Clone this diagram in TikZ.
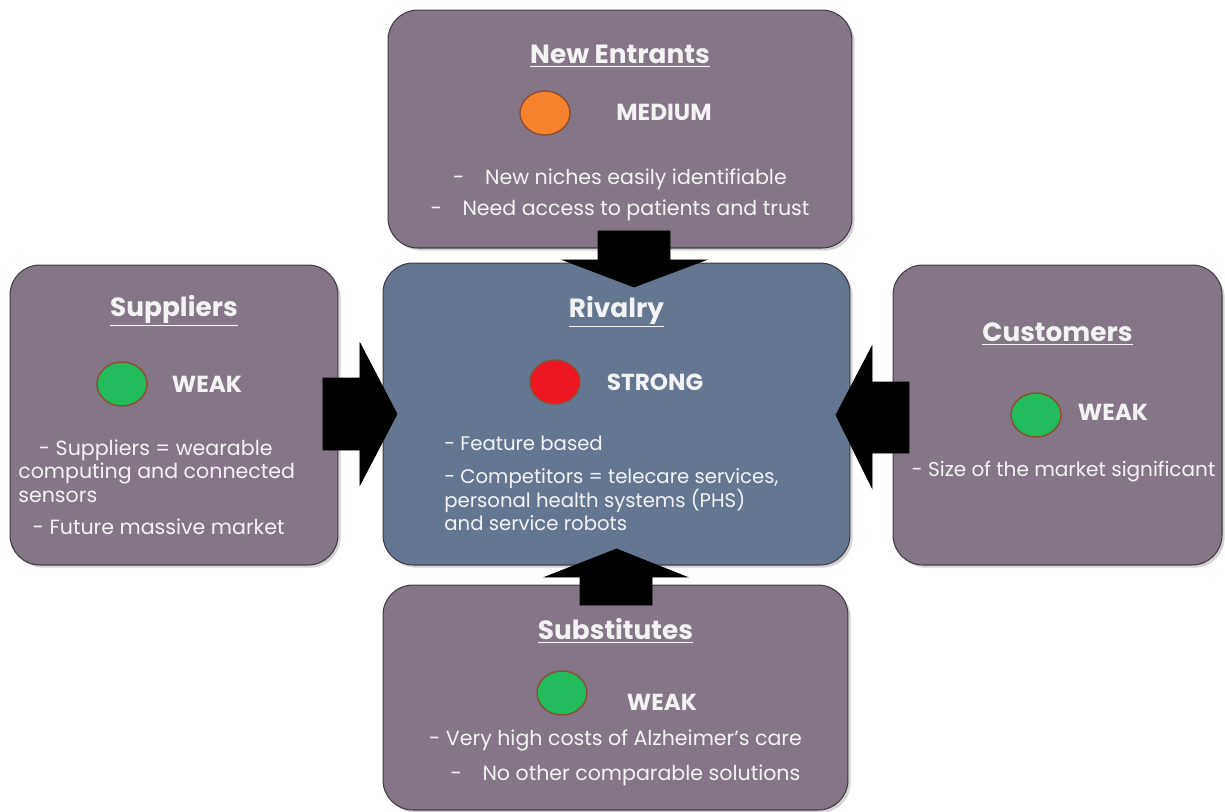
\documentclass[tikz,border=0pt]{standalone}
\usepackage{fontspec}
\setmainfont{Poppins}
\usetikzlibrary{positioning,calc,shadows,shapes.geometric}
\definecolor{forcefill}{RGB}{133,118,135}
\definecolor{rivalfill}{RGB}{101,118,145}
\definecolor{boxedge}{RGB}{66,58,68}
\definecolor{txtlight}{RGB}{243,243,243}
\definecolor{medorange}{RGB}{245,130,45}
\definecolor{strongred}{RGB}{238,22,32}
\definecolor{weakgreen}{RGB}{34,188,92}
\definecolor{dotrim}{RGB}{140,78,52}

\begin{document}
\begin{tikzpicture}[
        x=0.02cm, y=-0.02cm,
        forcebox/.style={draw=boxedge, line width=0.6pt, rounded corners=17pt, fill=forcefill, inner sep=0pt, outer sep=0pt,
            drop shadow={opacity=0.35, shadow xshift=1.5pt, shadow yshift=-1.5pt}},
        rivalbox/.style={forcebox, fill=rivalfill},
        title/.style={text=txtlight, font=\fontsize{15}{18}\selectfont\bfseries},
        level/.style={text=txtlight, font=\fontsize{13.2}{15}\selectfont\bfseries},
        body/.style={text=txtlight, inner sep=0pt, font=\fontsize{11.7}{13.5}\selectfont},
        dot/.style={ellipse, draw=dotrim, line width=0.8pt, minimum width=1cm, minimum height=0.88cm, inner sep=0pt},
        forcearrow/.style={fill=black, draw=black}
    ]
    \useasboundingbox (0,0) rectangle (1225,812);

    % Boxes
    \node[forcebox, minimum width=9.28cm, minimum height=4.76cm] (entrants) at (620,129) {};
    \node[forcebox, minimum width=6.56cm, minimum height=6cm] (suppliers) at (174,415) {};
    \node[rivalbox, minimum width=9.34cm, minimum height=6.04cm] (rivalry) at (616.5,414) {};
    \node[forcebox, minimum width=6.58cm, minimum height=6cm] (customers) at (1057.5,415) {};
    \node[forcebox, minimum width=9.3cm, minimum height=4.5cm] (substitutes) at (615.5,697.5) {};

    % New Entrants
    \node[title] (entrantsTitle) at ($(entrants.center)+(0,-73)$) {\underline{New Entrants}};
    \node[dot, fill=medorange] (entrantsDot) at ($(entrants.center)+(-75,-16)$) {};
    \node[level] (entrantsLevel) at ($(entrants.center)+(44,-17)$) {MEDIUM};
    \node[body, align=center, font=\fontsize{11.7}{18}\selectfont] (entrantsText) at ($(entrants.center)+(0,66)$) {
        -\quad New niches easily identifiable \\
        -\quad Need access to patients and trust
    };

    % Suppliers
    \node[title] (suppliersTitle) at ($(suppliers.center)+(0,-104)$) {\underline{Suppliers}};
    \node[dot, fill=weakgreen] (suppliersDot) at ($(suppliers.center)+(-52,-31)$) {};
    \node[level] (suppliersLevel) at ($(suppliers.center)+(33,-31)$) {WEAK};
    \node[body, anchor=north west, align=left] (suppliersText) at ($(suppliers.center)+(-156,24)$) {
        \hspace*{1em}- Suppliers = wearable \\
        computing and connected \\
        sensors \\[5pt]
        \hspace*{0.7em}- Future massive market
    };

    % Rivalry
    \node[title] (rivalryTitle) at ($(rivalry.center)+(0,-102)$) {\underline{Rivalry}};
    \node[dot, fill=strongred] (rivalryDot) at ($(rivalry.center)+(-61.5,-32)$) {};
    \node[level] (rivalryLevel) at ($(rivalry.center)+(38.5,-32)$) {STRONG};
    \node[body, anchor=north west, align=left, font=\fontsize{11.2}{13.5}\selectfont] (rivalryText) at ($(rivalry.center)+(-172.5,22)$) {
        - Feature based \\[5pt]
        - Competitors = telecare services, \\
        personal health systems (PHS) \\
        and service robots
    };

    % Customers
    \node[title] (customersTitle) at ($(customers.center)+(0,-81)$) {\underline{Customers}};
    \node[dot, fill=weakgreen] (customersDot) at ($(customers.center)+(-21.5,0)$) {};
    \node[level] (customersLevel) at ($(customers.center)+(55.5,-3)$) {WEAK};
    \node[body, font=\fontsize{11.4}{13.5}\selectfont] (customersText) at ($(customers.center)+(6,57)$) {- Size of the market significant};

    % Substitutes
    \node[title] (substitutesTitle) at ($(substitutes.center)+(0,-66.5)$) {\underline{Substitutes}};
    \node[dot, fill=weakgreen] (substitutesDot) at ($(substitutes.center)+(-53.5,-4.5)$) {};
    \node[level] (substitutesLevel) at ($(substitutes.center)+(46.5,4.5)$) {WEAK};
    \node[body] (substitutesCost) at ($(substitutes.center)+(0,43)$) {- Very high costs of Alzheimer’s care};
    \node[body] (substitutesNone) at ($(substitutes.center)+(10,78)$) {-\quad No other comparable solutions};

    % Arrows - from each force into rivalry
    \fill[forcearrow] ($(entrants.south)+(-22,-17)$) -- ++(72,0) -- ++(0,29) -- ++(36,0)
        -- ($(rivalry.north)+(17.5,24)$) -- ($(entrants.south)+(-57,12)$) -- ++(35,0) -- cycle;
    \fill[forcearrow] ($(suppliers.east)+(-15,-37)$) -- ++(37,0) -- ++(0,-35)
        -- ($(rivalry.west)+(14,0)$) -- ($(suppliers.east)+(22,70)$) -- ++(0,-35) -- ++(-37,0) -- cycle;
    \fill[forcearrow] ($(customers.west)+(16,-33)$) -- ++(-37,0) -- ++(0,-36)
        -- ($(rivalry.east)+(-14,1)$) -- ($(customers.west)+(-21,73)$) -- ++(0,-35) -- ++(37,0) -- cycle;
    \fill[forcearrow] ($(substitutes.north)+(-35.5,20)$) -- ++(72,0) -- ++(0,-28) -- ++(35,0)
        -- ($(rivalry.south)+(0,-16)$) -- ($(substitutes.north)+(-70.5,-8)$) -- ++(35,0) -- cycle;

\end{tikzpicture}
\end{document}
